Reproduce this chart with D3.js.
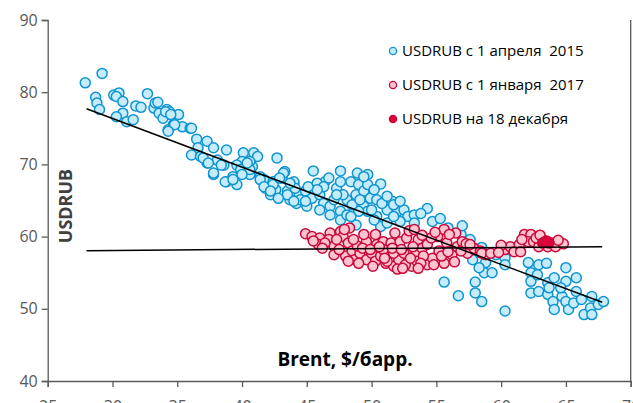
<!DOCTYPE html>
<html><head><meta charset="utf-8">
<script src="https://cdn.jsdelivr.net/npm/d3@7/dist/d3.min.js"></script>
<style>
html,body{margin:0;padding:0;background:#fff;}
svg{display:block;}
text{font-family:"Open Sans",sans-serif;}
</style></head>
<body>
<script>
const xTicks=[25,30,35,40,45,50,55,60,65,70];
const yTicks=[40,50,60,70,80,90];
const seriesNames=["USDRUB с 1 апреля  2015","USDRUB с 1 января  2017","USDRUB на 18 декабря"];
const blue=[[27.9,81.3],[29.2,82.6],[28.7,79.3],[28.8,78.5],[29.0,77.6],[30.1,79.6],[30.5,79.9],[30.3,79.4],[30.8,78.7],[30.8,77.1],[30.3,76.6],[31.1,75.9],[31.6,76.2],[31.8,78.1],[32.2,77.9],[32.7,79.8],[33.2,77.8],[33.3,78.5],[33.5,78.6],[33.6,77.1],[33.9,76.4],[34.2,77.6],[34.4,77.3],[34.3,74.8],[34.7,75.5],[35.1,76.9],[35.4,75.2],[36.0,75.0],[36.5,73.5],[37.3,73.2],[36.6,72.3],[36.1,71.3],[36.8,71.1],[37.8,72.3],[38.8,72.0],[37.3,70.2],[38.1,70.6],[37.8,68.6],[38.6,69.9],[38.8,67.6],[39.6,67.2],[40.1,71.6],[40.9,71.6],[40.8,69.7],[40.4,69.0],[40.0,70.4],[39.3,68.3],
[34.1,77.3],[34.5,76.9],[34.8,75.5],[34.3,74.6],[36.1,75.0],[37.0,70.9],[37.4,70.2],[38.4,69.9],[37.8,68.8],[38.7,67.6],[39.3,67.9],[39.6,69.9],[41.2,71.1],[40.6,70.4],[39.9,69.3],[40.6,68.6],[41.4,68.3],[41.7,67.9],[42.7,70.9],[43.3,69.0],[43.1,68.1],[42.4,67.6],[41.8,66.7],[42.6,66.5],[43.5,66.3],[44.0,67.4],[43.7,65.1],[44.2,64.6],[42.2,65.8],
[45.5,69.1],[47.6,69.1],[49.7,68.6],[50.7,67.3],[43.2,68.8],[44.0,67.6],[42.4,67.2],[43.5,65.8],[44.4,66.0],[44.9,66.3],[44.5,65.1],[45.4,65.3],[46.0,65.8],[46.4,67.6],[46.7,68.1],[47.3,66.7],[46.3,64.6],[46.8,64.2],[47.6,63.5],[48.1,65.1],[48.4,67.6],[49.0,67.2],[48.8,65.8],[49.4,66.3],[49.7,67.2],[49.9,65.3],[50.2,66.5],[50.4,65.1],[49.4,64.2],[49.7,63.5],[49.0,63.5],[48.8,61.6],[50.4,62.8],[51.2,63.7],[51.6,64.9],[52.0,63.5],[52.5,63.7],[52.8,62.8],[53.3,63.0],[52.2,62.1],[50.7,61.4],[51.2,61.9],[53.3,61.9],[40.6,69.3],[41.4,67.9],[40.4,70.2],[40.0,68.6],[41.7,66.9],[42.2,66.3],[42.8,65.3],[44.0,64.9],[46.0,63.7],[47.6,62.3],[48.1,63.0],[46.8,63.0],[45.0,64.2],
[45.8,67.4],[46.3,66.9],[47.6,67.6],[47.8,65.8],[48.5,64.4],[49.1,65.1],[48.4,62.8],[50.0,63.7],[50.8,64.6],[51.7,62.8],[50.2,62.3],[45.8,66.5],[45.1,66.9],[44.1,66.7],[43.7,67.4],[42.9,68.1],[44.9,64.9],[47.1,65.1],[47.3,65.8],[51.2,65.6],[48.9,68.8],[49.4,68.3],
[54.3,63.9],[54.7,62.1],[55.9,61.2],[56.9,60.3],[57.6,59.6],[58.5,58.5],[59.6,57.5],[60.3,57.1],[57.8,56.8],[51.7,64.4],[52.2,64.9],[57.0,61.5],[53.8,63.2],[55.3,62.5],[58.8,56.4],
[55.6,53.7],[56.7,51.8],[58.0,53.7],[58.0,52.2],[58.5,51.0],[58.7,55.0],[58.3,55.7],
[59.3,55.0],[60.3,49.7],[60.3,56.1],[62.1,56.4],[62.9,56.1],[63.5,56.3],[62.3,55.0],[62.3,53.8],[62.8,54.7],[63.6,53.6],[64.1,54.3],[65.0,55.7],[65.8,54.3],[65.0,53.8],[62.3,52.2],[62.9,52.4],[63.6,52.0],[64.0,51.0],[64.1,49.9],[64.7,51.7],[65.0,51.0],[65.2,49.9],[65.6,50.8],[65.8,52.4],[66.2,51.3],[66.4,49.2],[66.9,50.1],[67.0,49.2],[67.0,51.7],[67.5,50.6],[67.9,51.0],[64.6,52.9],[63.7,52.9]];
const red=[[44.9,60.4],[45.4,60.0],[46.0,59.8],[45.9,58.9],[46.8,60.5],[46.7,59.6],[47.1,58.7],[47.1,57.5],[47.6,60.7],[47.8,60.0],[48.0,57.3],[48.2,59.1],[48.5,58.0],[48.7,56.8],[49.1,57.7],[49.6,59.3],[49.6,56.8],[50.0,57.7],[50.3,56.6],[50.4,58.9],[50.7,57.3],[50.9,59.3],[51.1,56.3],[51.3,57.7],[51.5,59.1],[51.7,55.9],[51.8,60.5],[52.1,56.8],[52.2,59.3],[52.5,57.7],[52.7,59.8],[52.9,56.3],[53.1,55.9],[53.4,57.5],[53.6,59.6],[53.9,58.4],[54.3,56.1],[54.7,57.0],[55.1,60.0],[55.2,58.0],[55.6,61.0],[55.6,56.3],[55.8,59.1],[56.2,57.5],[56.5,60.5],[56.6,58.6],[57.0,59.3],[57.4,57.7],[57.9,58.4],[58.4,58.0],[58.8,57.5],[49.4,60.3],[50.3,60.3],[47.3,59.6],[46.4,59.1],[48.9,58.7],[50.9,58.2],[51.7,57.7],[53.5,56.6],[54.8,56.1],[52.0,55.5],[54.0,57.3],[51.2,56.6],[48.3,61.2],[47.9,61.0],[52.9,60.8],[53.3,61.0],
[47.5,58.2],[48.6,59.6],[49.3,58.4],[49.9,58.2],[50.6,58.6],[51.0,57.0],[51.6,58.4],[52.3,58.2],[52.6,56.1],[53.0,57.0],[53.2,58.6],[53.8,56.3],[54.3,58.9],[54.6,59.8],[55.4,57.3],[55.9,57.9],[56.9,58.0],[57.3,59.0],[56.0,60.3],[54.9,60.6],[53.9,60.2],[49.0,56.3],[50.1,55.9],[52.4,55.6],[53.6,55.6],[48.2,56.6],[46.2,58.4],[45.5,59.4],[56.4,56.5],[57.6,58.9],
[58.5,57.7],[59.2,57.7],[60.3,58.2],[60.7,58.6],[61.0,57.9],[61.4,58.9],[61.5,57.9],[61.8,60.3],[62.3,60.3],[62.1,59.3],[62.5,59.3],[62.9,58.6],[63.6,58.6],[63.9,59.1],[64.2,58.6],[64.8,59.0],[63.2,59.6],[61.6,59.6],[62.7,59.8],[63.0,60.2],[64.4,59.5],[60.0,58.8],[59.8,57.8]];
const latest=[[63.2,59.1],[63.4,59.3],[63.7,59.1],[63.5,59.4]];
const trendBlue=[[28,77.7],[67.8,50.9]];
const trendRed=[[28,58.05],[67.8,58.6]];

const W=633,H=403;
const m={l:47.7,r:2.3,t:20,b:22};
const svg=d3.select("body").append("svg").attr("width",W).attr("height",H);
const x=d3.scaleLinear().domain([25,70]).range([m.l,W-m.r]);
const y=d3.scaleLinear().domain([40,90]).range([H-m.b,m.t]);
const axisCol="#595959";

const gx=svg.append("g").attr("transform",`translate(0,${y(40)})`)
  .call(d3.axisBottom(x).tickValues(xTicks).tickSize(6).tickPadding(14));
const gy=svg.append("g").attr("transform",`translate(${x(25)},0)`)
  .call(d3.axisLeft(y).tickValues(yTicks).tickSize(6).tickPadding(4));
[gx,gy].forEach(g=>{
  g.select(".domain").attr("stroke",axisCol).attr("stroke-width",1.3);
  g.selectAll(".tick line").attr("stroke",axisCol).attr("stroke-width",1.3);
  g.selectAll(".tick text").attr("fill",axisCol).attr("font-size",16).attr("font-family","'Open Sans',sans-serif");
});
svg.append("line").attr("x1",x(70)).attr("x2",x(70)).attr("y1",y(90)).attr("y2",y(40))
  .attr("stroke",axisCol).attr("stroke-width",1.3);

const dots=(data,fill,stroke,r)=>svg.append("g").selectAll("circle").data(data).join("circle")
  .attr("cx",d=>x(d[0])).attr("cy",d=>y(d[1])).attr("r",r)
  .attr("fill",fill).attr("stroke",stroke).attr("stroke-width",1.5);
dots(blue,"#c4ecfc","#1094cf",5);
dots(red,"#ffc4cf","#c8083a",5);
dots(latest,"#e2003a","#c8083a",5);

const line=d3.line().x(d=>x(d[0])).y(d=>y(d[1]));
svg.append("path").attr("d",line(trendBlue)).attr("stroke","#000").attr("stroke-width",1.5).attr("fill","none");
svg.append("path").attr("d",line(trendRed)).attr("stroke","#000").attr("stroke-width",1.5).attr("fill","none");

const leg=[["#c4ecfc","#1094cf"],["#ffc4cf","#c8083a"],["#e2003a","#c8083a"]];
seriesNames.forEach((n,i)=>{
  const yy=51+i*34;
  svg.append("circle").attr("cx",393).attr("cy",yy).attr("r",3.6)
    .attr("fill",leg[i][0]).attr("stroke",leg[i][1]).attr("stroke-width",1.3);
  svg.append("text").attr("x",402).attr("y",yy).attr("dy","0.36em")
    .attr("font-size",15).attr("fill","#000").style("white-space","pre").text(n);
});

svg.append("text").attr("x",345).attr("y",366).attr("text-anchor","middle")
  .attr("font-size",19).attr("font-weight","bold").attr("fill","#000").text("Brent, $/барр.");
svg.append("text").attr("transform",`translate(72,206) rotate(-90)`).attr("text-anchor","middle")
  .attr("font-size",18).attr("font-weight","bold").attr("fill","#404040").text("USDRUB");
</script>
</body></html>
